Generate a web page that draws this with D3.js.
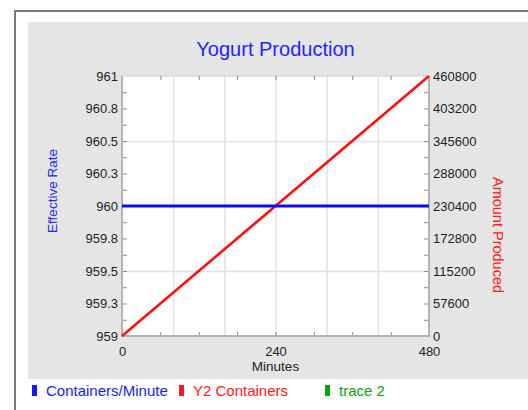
<!DOCTYPE html>
<html>
<head>
<meta charset="utf-8">
<script src="https://cdn.jsdelivr.net/npm/d3@7"></script>
<style>
  html, body { margin: 0; padding: 0; background: #ffffff; }
  svg { display: block; font-family: "Liberation Sans", Arial, sans-serif; }
</style>
</head>
<body>
<svg id="chart" width="528" height="410"></svg>
<script>
// Yogurt production: constant line rate and cumulative containers over a shift
const minutes = [0, 60, 120, 180, 240, 300, 360, 420, 480];
const containersPerMinute = [960, 960, 960, 960, 960, 960, 960, 960, 960];
const y2Containers = [0, 57600, 115200, 172800, 230400, 288000, 345600, 403200, 460800];

const leftTicks = [959, 959.25, 959.5, 959.75, 960, 960.25, 960.5, 960.75, 961];
const leftTickLabels = ["959", "959.3", "959.5", "959.8", "960", "960.3", "960.5", "960.8", "961"];
const rightTicks = [0, 57600, 115200, 172800, 230400, 288000, 345600, 403200, 460800];
const xTicks = [0, 60, 120, 180, 240, 300, 360, 420, 480];
const xTickLabels = ["0", "", "", "", "240", "", "", "", "480"];
const xGrid = [80, 160, 240, 320, 400];
const yGrid = [115200, 230400, 345600];

const legendItems = [
  { name: "Containers/Minute", color: "#1a1aff" },
  { name: "Y2 Containers", color: "#ff1a1a" },
  { name: "trace 2", color: "#10a010" }
];

const svg = d3.select("#chart");

// outer frame and grey panel
svg.append("path")
  .attr("d", "M15,410 V11 H528")
  .attr("fill", "none").attr("stroke", "#7a7a7a").attr("stroke-width", 2);
svg.append("rect").attr("x", 28).attr("y", 22).attr("width", 500).attr("height", 357)
  .attr("fill", "#e5e5e5");

const plot = { left: 122, right: 429, top: 76, bottom: 336 };

const x = d3.scaleLinear().domain([0, 480]).range([plot.left, plot.right]);
const yL = d3.scaleLinear().domain([959, 961]).range([plot.bottom, plot.top]);
const yR = d3.scaleLinear().domain([0, 460800]).range([plot.bottom, plot.top]);

svg.append("rect")
  .attr("x", plot.left).attr("y", plot.top)
  .attr("width", plot.right - plot.left).attr("height", plot.bottom - plot.top)
  .attr("fill", "#ffffff").attr("stroke", "#d0d0d0").attr("stroke-width", 1);

// grid lines
svg.append("g").selectAll("line").data(xGrid).join("line")
  .attr("x1", d => x(d) + 0.5).attr("x2", d => x(d) + 0.5)
  .attr("y1", plot.top).attr("y2", plot.bottom)
  .attr("stroke", "#e2e2e2").attr("stroke-width", 1.5);
svg.append("g").selectAll("line").data(yGrid).join("line")
  .attr("x1", plot.left).attr("x2", plot.right)
  .attr("y1", d => yR(d) + 0.5).attr("y2", d => yR(d) + 0.5)
  .attr("stroke", "#e2e2e2").attr("stroke-width", 1.5);

const tickColor = "#8a8a8a";
const labelColor = "#1e1e1e";

// minor tick positions halfway between major ticks
function mids(arr) { return arr.slice(1).map((v, i) => (v + arr[i]) / 2); }

// bottom axis
const xAxis = d3.axisBottom(x).tickValues(xTicks).tickSize(0).tickPadding(11)
  .tickFormat((d, i) => xTickLabels[i]);
const gx = svg.append("g").attr("transform", `translate(0,${plot.bottom})`).call(xAxis);
gx.select(".domain").remove();
gx.selectAll("text").attr("font-size", 13).attr("fill", labelColor)
  .attr("font-family", "Liberation Sans, Arial, sans-serif");
svg.append("g").selectAll("line").data(xTicks.slice(1, -1)).join("line")
  .attr("x1", d => x(d) + 0.5).attr("x2", d => x(d) + 0.5)
  .attr("y1", plot.bottom - 4).attr("y2", plot.bottom)
  .attr("stroke", tickColor);
svg.append("g").selectAll("line").data(xTicks.slice(1, -1)).join("line")
  .attr("x1", d => x(d) + 0.5).attr("x2", d => x(d) + 0.5)
  .attr("y1", plot.top).attr("y2", plot.top + 4)
  .attr("stroke", tickColor);

// left axis
const yAxisL = d3.axisLeft(yL).tickValues(leftTicks).tickSize(0).tickPadding(4)
  .tickFormat((d, i) => leftTickLabels[i]);
const gl = svg.append("g").attr("transform", `translate(${plot.left},0)`).call(yAxisL);
gl.select(".domain").remove();
gl.selectAll("text").attr("font-size", 13).attr("fill", labelColor)
  .attr("font-family", "Liberation Sans, Arial, sans-serif");
svg.append("g").selectAll("line").data(leftTicks.slice(1, -1).concat(mids(leftTicks))).join("line")
  .attr("x1", plot.left).attr("x2", plot.left + 5)
  .attr("y1", d => yL(d) + 0.5).attr("y2", d => yL(d) + 0.5)
  .attr("stroke", tickColor);

// right axis
const yAxisR = d3.axisRight(yR).tickValues(rightTicks).tickSize(0).tickPadding(4)
  .tickFormat(d3.format("d"));
const gr = svg.append("g").attr("transform", `translate(${plot.right},0)`).call(yAxisR);
gr.select(".domain").remove();
gr.selectAll("text").attr("font-size", 13).attr("fill", labelColor)
  .attr("font-family", "Liberation Sans, Arial, sans-serif");
svg.append("g").selectAll("line").data(rightTicks.slice(1, -1).concat(mids(rightTicks))).join("line")
  .attr("x1", plot.right - 5).attr("x2", plot.right)
  .attr("y1", d => yR(d) + 0.5).attr("y2", d => yR(d) + 0.5)
  .attr("stroke", tickColor);

// axis lines
svg.append("path")
  .attr("d", `M${plot.left},${plot.top} V${plot.bottom} H${plot.right} V${plot.top}`)
  .attr("fill", "none").attr("stroke", "#b4b4b4").attr("stroke-width", 2);

// series
const rows = minutes.map((m, i) => ({ m, rate: containersPerMinute[i], total: y2Containers[i] }));
svg.append("path").datum(rows)
  .attr("fill", "none").attr("stroke", "#ff1010").attr("stroke-width", 2.6)
  .attr("d", d3.line().x(d => x(d.m)).y(d => yR(d.total)));
svg.append("path").datum(rows)
  .attr("fill", "none").attr("stroke", "#0a0aff").attr("stroke-width", 3)
  .attr("d", d3.line().x(d => x(d.m)).y(d => yL(d.rate)));

// titles
svg.append("text").attr("x", (plot.left + plot.right) / 2).attr("y", 56)
  .attr("text-anchor", "middle").attr("font-size", 20).attr("fill", "#2424ff")
  .text("Yogurt Production");
svg.append("text").attr("x", (plot.left + plot.right) / 2).attr("y", 371)
  .attr("text-anchor", "middle").attr("font-size", 13.5).attr("fill", labelColor)
  .text("Minutes");
svg.append("text").attr("transform", "translate(57,191) rotate(-90)")
  .attr("text-anchor", "middle").attr("font-size", 13.5).attr("fill", "#2424ff")
  .text("Effective Rate");
svg.append("text").attr("transform", "translate(493,235) rotate(90)")
  .attr("text-anchor", "middle").attr("font-size", 14.5).attr("fill", "#ff2020")
  .text("Amount Produced");

// legend
const legendX = [32, 179, 325];
const lg = svg.append("g").selectAll("g").data(legendItems).join("g")
  .attr("transform", (d, i) => `translate(${legendX[i]},0)`);
lg.append("rect").attr("x", 0).attr("y", 385).attr("width", 5).attr("height", 11)
  .attr("fill", d => d.color);
lg.append("text").attr("x", 14).attr("y", 396).attr("font-size", 15)
  .attr("fill", d => d.color).text(d => d.name);
</script>
</body>
</html>
